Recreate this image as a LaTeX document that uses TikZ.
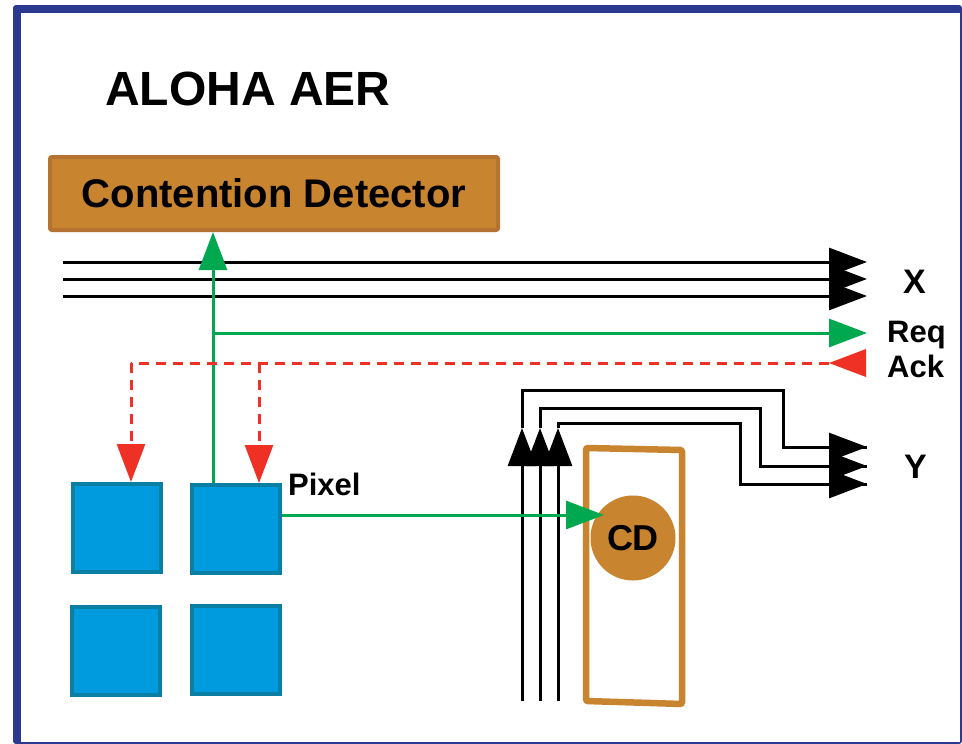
\documentclass[tikz,border=0pt]{standalone}
\usepackage{fontspec}
\setmainfont{Liberation Sans}
\usetikzlibrary{arrows.meta,calc}

\definecolor{frameblue}{RGB}{43,57,144}
\definecolor{cdorange}{RGB}{200,132,47}
\definecolor{cdedge}{RGB}{180,115,48}
\definecolor{pixblue}{RGB}{0,154,222}
\definecolor{pixedge}{RGB}{10,127,163}
\definecolor{reqgreen}{RGB}{0,169,79}
\definecolor{ackred}{RGB}{238,49,36}

\tikzset{
	>={Triangle[length=38pt,width=28pt]},
	bus/.style={line width=3pt, color=black},
	reqline/.style={line width=3pt, color=reqgreen},
	ackline/.style={line width=3pt, color=ackred, dash pattern=on 10pt off 7pt},
	pixelbox/.style={draw=pixedge, fill=pixblue, line width=4pt, minimum size=88pt, inner sep=0pt},
	lbl/.style={font=\fontsize{31}{31}\selectfont\bfseries, inner sep=0pt, anchor=base west},
}

\begin{document}
\begin{tikzpicture}[x=1pt, y=-1pt]
		%%%%% START %%%%%
		\useasboundingbox (0,0) rectangle (962,744);
		
		\fill[frameblue, rounded corners=3pt] (13,5) rectangle (962,744);
		\fill[white] (21,13) rectangle (960,742);
		
		\node[inner sep=0pt, anchor=base west, font=\fontsize{48}{48}\selectfont\bfseries] (title) at (105,105) {ALOHA AER};
		
		\node[draw=cdedge, fill=cdorange, line width=4pt, rounded corners=2pt, minimum width=448pt, minimum height=73pt, font=\fontsize{40}{40}\selectfont\bfseries] (det) at (274,193.5) {Contention Detector};
		
		\node[pixelbox] (p11) at (117,528) {};
		\node[pixelbox] (p12) at (236,529) {};
		\node[pixelbox] (p21) at (116,651) {};
		\node[pixelbox] (p22) at (236,650) {};
		\node[lbl] (pix) at (288,495) {Pixel};
		
		\draw[line width=6.5pt, color=cdorange, rounded corners=2pt] (586,448) -- (682,450) -- (682,704) -- (586,701) -- cycle;
		\node[circle, fill=cdorange, minimum size=85pt, inner sep=0pt, font=\fontsize{36}{36}\selectfont\bfseries] (cd) at (633,538) {CD};
		
		\node[lbl, font=\fontsize{34}{34}\selectfont\bfseries] (xl) at (903,293) {X};
		\node[lbl] (reql) at (887,342) {Req};
		\node[lbl] (ackl) at (887,377) {Ack};
		\node[lbl, font=\fontsize{34}{34}\selectfont\bfseries] (yl) at (904,478) {Y};
		
		% X bus
		\foreach \i/\y in {1/262,2/279,3/296}{
			\coordinate (xw\i) at (63,\y);
			\coordinate (xe\i) at (867,\y);
			\draw[bus,->] (xw\i) -- (xe\i);
		}
		
		% Y bus
		\foreach \i/\x/\ytop/\xturn/\yout in {1/522/390/783/447,2/540/408/760/466,3/558/423/740/484}{
			\coordinate (ys\i) at (\x,701);
			\coordinate (ym\i) at (\x,428);
			\coordinate (ye\i) at (867,\yout);
			\draw[bus] (ym\i) -- (\x,\ytop) -- (\xturn,\ytop) -- (\xturn,\yout) -- (ye\i);
		}
		\foreach \i in {1,2,3}{
			\draw[bus,->] (ye\i) ++(-1,0) -- (ye\i);
			\draw[bus,->] (ys\i) -- (ym\i);
		}
		
		% request
		\coordinate (reqtap) at (213,333);
		\coordinate (reqtip) at (867,333);
		\draw[reqline,->] (p12.north -| reqtap) -- (det.south -| reqtap);
		\draw[reqline,->] (reqtap) -- (reqtip);
		\coordinate (cdin) at (604,515);
		\draw[reqline,->] (p12.east |- cdin) -- (cdin);
		
		% acknowledge
		\coordinate (ackend) at (829,363);
		\coordinate (ackleft) at (131,363);
		\coordinate (ackright) at (259,363);
		\fill[ackred] (ackend) -- (866,349) -- (866,377) -- cycle;
		\draw[ackline] (ackend) -- (ackleft);
		\draw[ackline,->] (ackleft) -- (ackleft |- p11.north);
		\draw[ackline,->] (ackright) -- (ackright |- p12.north);
		
		%%%%% END %%%%%
\end{tikzpicture}
\end{document}
